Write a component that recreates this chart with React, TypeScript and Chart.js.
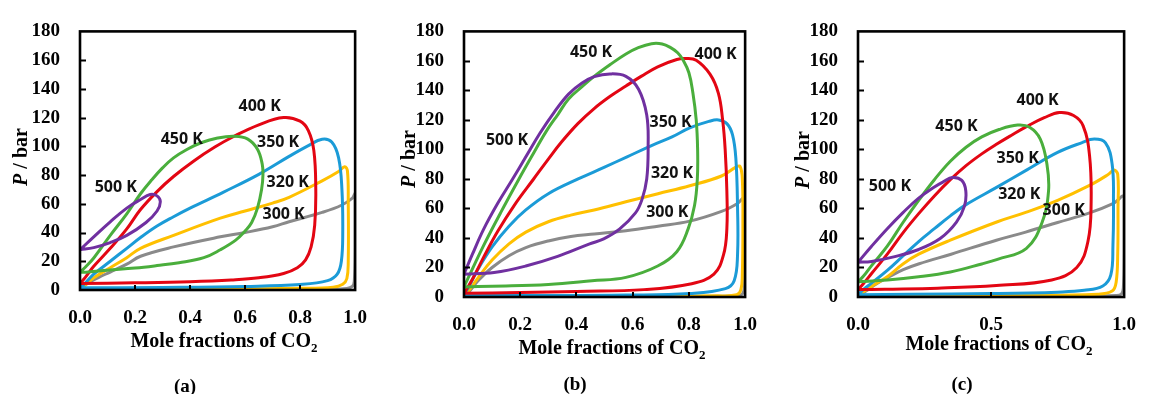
import React, { useEffect, useRef } from "react";
import { Chart, registerables } from "chart.js";
Chart.register(...registerables);

// ---------- data (x = mole fraction of CO2, p = pressure / bar) ----------
const temps = ["300 K", "320 K", "350 K", "400 K", "450 K", "500 K"];
const colors = ["#8a8a8a", "#ffc000", "#1b9bd7", "#e30613", "#4aae3c", "#7030a0"];

// panel (a)
const a300x = [0, 0.03, 0.07, 0.11, 0.17, 0.22, 0.34, 0.51, 0.6, 0.7, 0.76, 0.88, 0.95, 0.99, 1.0, 1.0, 0.997, 0.99, 0.97, 0.9, 0.7, 0.4, 0.1, 0];
const a300p = [0.3, 5, 9, 12.5, 18, 23.5, 30, 37, 40, 44, 47.5, 54, 59, 64, 67, 30, 6, 2.5, 1, 0.5, 0.3, 0.2, 0.2, 0.3];
const a320x = [0, 0.02, 0.05, 0.11, 0.17, 0.22, 0.34, 0.51, 0.6, 0.7, 0.76, 0.88, 0.94, 0.962, 0.972, 0.975, 0.975, 0.97, 0.955, 0.92, 0.8, 0.5, 0.2, 0];
const a320p = [0.5, 3.5, 8.5, 15.5, 22.5, 29, 38, 50, 55, 60.5, 64.5, 76, 82.5, 85.8, 83, 60, 20, 8, 4, 2, 1.2, 0.7, 0.5, 0.5];
const a350x = [0, 0.02, 0.05, 0.11, 0.17, 0.22, 0.28, 0.34, 0.4, 0.52, 0.65, 0.76, 0.83, 0.88, 0.915, 0.94, 0.952, 0.955, 0.95, 0.935, 0.9, 0.8, 0.6, 0.3, 0];
const a350p = [1.5, 5, 11, 20, 29, 36.5, 44.5, 51, 57, 68, 80.5, 93, 100.5, 105, 103, 92, 70, 40, 20, 11, 6.5, 3.8, 2.5, 1.8, 1.5];
const a400x = [0, 0.02, 0.05, 0.11, 0.17, 0.22, 0.28, 0.34, 0.415, 0.49, 0.555, 0.65, 0.74, 0.8, 0.83, 0.85, 0.857, 0.853, 0.84, 0.82, 0.79, 0.74, 0.65, 0.55, 0.4, 0.2, 0];
const a400p = [4.5, 9, 16.5, 29, 42.5, 56, 68.5, 79, 90, 99.5, 106.5, 115, 120, 117.5, 111, 97, 70, 45, 30, 21, 15.5, 11.5, 8.5, 7, 5.8, 5, 4.5];
const a450x = [0, 0.02, 0.05, 0.11, 0.17, 0.22, 0.26, 0.3, 0.34, 0.39, 0.44, 0.5, 0.56, 0.61, 0.645, 0.662, 0.665, 0.66, 0.645, 0.624, 0.6, 0.566, 0.51, 0.45, 0.36, 0.28, 0.2, 0.1, 0.03, 0];
const a450p = [12.3, 16, 22.3, 38, 53, 67, 76.5, 85, 92, 98, 102.5, 105.8, 107, 105, 98, 88, 80, 70, 57, 47, 41, 34.7, 28, 22.5, 19, 17, 15.3, 13.8, 12.6, 12.3];
const a500x = [0, 0.05, 0.11, 0.17, 0.22, 0.255, 0.28, 0.292, 0.28, 0.24, 0.17, 0.11, 0.05, 0];
const a500p = [28, 37, 47.5, 57, 63, 66.5, 65.5, 61.5, 55, 47, 38, 33, 29.5, 28];
const aLabelX = [0.74, 0.755, 0.72, 0.653, 0.37, 0.13];
const aLabelP = [52.5, 75, 103, 127.5, 105, 71.5];

// panel (b)
const b300x = [0, 0.02, 0.05, 0.1, 0.16, 0.22, 0.3, 0.38, 0.463, 0.576, 0.69, 0.803, 0.916, 0.973, 1.0, 1.0, 0.997, 0.99, 0.97, 0.8, 0.4, 0];
const b300p = [0.5, 4, 11, 20, 28, 33.5, 38, 41, 42.7, 44.9, 48, 51.4, 58, 63.4, 67.5, 30, 6, 2, 0.8, 0.4, 0.3, 0.5];
const b320x = [0, 0.02, 0.05, 0.1, 0.16, 0.22, 0.3, 0.38, 0.463, 0.576, 0.69, 0.803, 0.916, 0.967, 0.982, 0.99, 0.992, 0.99, 0.985, 0.97, 0.9, 0.5, 0];
const b320p = [0.8, 5, 13, 25, 36, 44, 51, 55.5, 59, 64.5, 70, 75.4, 82, 88, 88.5, 80, 50, 15, 5, 1.5, 0.8, 0.5, 0.5];
const b350x = [0, 0.02, 0.05, 0.1, 0.16, 0.22, 0.3, 0.406, 0.5, 0.58, 0.667, 0.74, 0.803, 0.871, 0.905, 0.935, 0.955, 0.967, 0.973, 0.973, 0.961, 0.93, 0.803, 0.576, 0.3, 0];
const b350p = [1.5, 8, 19, 34, 48, 59, 70, 80, 88, 95, 102.6, 108.5, 114.6, 119, 120, 117.5, 110, 94, 61, 28.5, 11, 5.7, 2.4, 1.3, 1, 1.2];
const b400x = [0, 0.03, 0.07, 0.12, 0.18, 0.247, 0.3, 0.349, 0.405, 0.463, 0.52, 0.576, 0.63, 0.689, 0.757, 0.79, 0.826, 0.875, 0.905, 0.92, 0.929, 0.935, 0.935, 0.923, 0.889, 0.81, 0.64, 0.4, 0.2, 0];
const b400p = [2.5, 12, 27, 44.5, 62.5, 79.8, 93.5, 105.5, 117.5, 127.7, 136, 143, 149.5, 156, 161, 161.6, 160.4, 151, 138, 120, 100, 72, 46, 28.5, 15.5, 9, 5, 3.8, 3, 2.5];
const b450x = [0, 0.03, 0.07, 0.13, 0.195, 0.24, 0.293, 0.335, 0.372, 0.42, 0.463, 0.52, 0.576, 0.62, 0.667, 0.705, 0.735, 0.76, 0.78, 0.8, 0.814, 0.826, 0.831, 0.83, 0.82, 0.797, 0.757, 0.689, 0.576, 0.455, 0.3, 0.1, 0];
const b450p = [6.8, 19, 35, 57, 79.8, 95, 112.4, 124, 134.2, 142.5, 149.5, 157.5, 164.7, 169, 171.7, 171.5, 169, 165.5, 160.4, 152, 138.6, 120, 100, 80, 62, 46, 30.7, 21, 13.3, 11, 8.5, 7.3, 6.8];
const b500x = [0, 0.03, 0.07, 0.12, 0.173, 0.22, 0.27, 0.32, 0.372, 0.42, 0.463, 0.519, 0.576, 0.621, 0.65, 0.655, 0.65, 0.633, 0.61, 0.553, 0.497, 0.447, 0.333, 0.22, 0.107, 0];
const b500p = [15.5, 29, 46, 63.5, 80, 95, 111, 125, 137.5, 145, 149.3, 151.2, 149.5, 140.8, 123.3, 101.5, 80, 66, 57, 46, 39.4, 36, 27.5, 21, 16.6, 15.5];
const bLabelX = [0.723, 0.74, 0.735, 0.895, 0.452, 0.153];
const bLabelP = [57.3, 83.7, 118.4, 164.7, 165.5, 106.3];

// panel (c)
const c300x = [0, 0.03, 0.07, 0.11, 0.17, 0.23, 0.35, 0.52, 0.63, 0.75, 0.87, 0.96, 1.0, 1.0, 0.997, 0.99, 0.97, 0.8, 0.4, 0];
const c300p = [0.5, 4, 9, 13, 18.5, 22.5, 29, 38.5, 44, 50.5, 57, 63.5, 68, 30, 6, 2, 1, 0.5, 0.4, 0.5];
const c320x = [0, 0.02, 0.051, 0.11, 0.169, 0.228, 0.347, 0.524, 0.633, 0.75, 0.87, 0.94, 0.962, 0.976, 0.977, 0.976, 0.97, 0.955, 0.9, 0.6, 0.2, 0];
const c320p = [0.8, 3.5, 7.2, 13.7, 22.4, 29, 38.5, 51, 57.5, 65.5, 75.6, 83, 86, 83, 60, 30, 10, 4, 1.8, 1, 0.7, 0.8];
const c350x = [0, 0.02, 0.051, 0.11, 0.169, 0.228, 0.287, 0.347, 0.406, 0.524, 0.633, 0.75, 0.84, 0.888, 0.93, 0.955, 0.96, 0.958, 0.95, 0.92, 0.85, 0.75, 0.5, 0.2, 0];
const c350p = [1.5, 5, 9.4, 18, 27.8, 37.6, 46.3, 55, 62.6, 74.6, 86, 98, 104.5, 107, 104.5, 90, 65, 35, 15, 7.5, 4.5, 3.3, 2.3, 1.8, 1.5];
const c400x = [0, 0.02, 0.051, 0.11, 0.169, 0.228, 0.287, 0.347, 0.406, 0.465, 0.52, 0.58, 0.633, 0.7, 0.757, 0.81, 0.846, 0.87, 0.876, 0.864, 0.822, 0.728, 0.52, 0.3, 0.1, 0];
const c400p = [5, 9, 15.9, 29, 43.5, 56.5, 68.5, 79.5, 89, 97, 103.5, 110, 115.5, 121.5, 125, 123, 116, 96, 64, 37.6, 20, 11.5, 7.8, 6, 5.3, 5];
const c450x = [0, 0.02, 0.051, 0.11, 0.169, 0.228, 0.287, 0.347, 0.406, 0.465, 0.53, 0.6, 0.645, 0.685, 0.71, 0.716, 0.692, 0.633, 0.524, 0.465, 0.347, 0.228, 0.11, 0];
const c450p = [10.4, 14, 21.3, 34.4, 50.5, 65.5, 79.5, 92, 101.5, 108.5, 113.5, 116.5, 115, 107, 90, 72, 50.7, 33, 25.5, 22.4, 17, 13.7, 11.5, 10.4];
const c500x = [0, 0.051, 0.11, 0.169, 0.228, 0.287, 0.32, 0.355, 0.39, 0.405, 0.4, 0.37, 0.31, 0.228, 0.134, 0.051, 0];
const c500p = [23.5, 34.4, 46.3, 57.2, 67, 74.6, 78, 81, 79, 72, 61.6, 50.7, 39.8, 32.2, 27.2, 24.1, 23.5];
const cLabelX = [0.773, 0.606, 0.6, 0.675, 0.37, 0.12];
const cLabelP = [58.7, 69.6, 93.7, 133, 115.4, 75];

const yTickValues = [20, 40, 60, 80, 100, 120, 140, 160];

// ---------- helpers ----------
type Curve = [number[], number[]];

function buildDatasets(curves: Curve[]) {
  const ds = curves.map(([xs, ps], i) => ({
    label: temps[i],
    data: xs.map((x, k) => ({ x, y: ps[k] })),
    showLine: true,
    borderColor: colors[i],
    backgroundColor: colors[i],
    borderWidth: 3,
    pointRadius: 0,
    tension: 0.4,
    fill: false,
  }));
  // first dataset is drawn on top in Chart.js -> put 500 K first
  return ds.reverse();
}

const framePlugin = {
  id: "frameAndLabels",
  afterDatasetsDraw(chart: any, _args: any, opts: any) {
    const { ctx, chartArea } = chart;
    const { left, right, top, bottom } = chartArea;
    const xs = chart.scales.x;
    const ys = chart.scales.y;
    ctx.save();
    ctx.strokeStyle = "#000";
    ctx.lineWidth = 2;
    ctx.beginPath();
    for (const v of yTickValues) {
      const py = Math.round(ys.getPixelForValue(v)) + 0.5;
      ctx.moveTo(left, py);
      ctx.lineTo(left + 6, py);
    }
    for (const v of opts.xTicks as number[]) {
      const px = Math.round(xs.getPixelForValue(v));
      ctx.moveTo(px, bottom);
      ctx.lineTo(px, bottom - 5);
    }
    ctx.stroke();
    ctx.lineWidth = 2.6;
    ctx.strokeRect(left, top, right - left, bottom - top);

    ctx.fillStyle = "#111";
    ctx.font = '700 16px "Open Sans", "DejaVu Sans", sans-serif';
    ctx.textAlign = "center";
    ctx.textBaseline = "middle";
    const lx: number[] = opts.labelX;
    const lp: number[] = opts.labelP;
    temps.forEach((t, i) => {
      ctx.fillText(t, xs.getPixelForValue(lx[i]), ys.getPixelForValue(lp[i]));
    });
    ctx.restore();
  },
};

const tickFont = { family: '"Liberation Serif", "Times New Roman", serif', size: 19, weight: "bold" as const };

type PanelProps = {
  left: number;
  width: number;
  plotLeft: number;
  plotRight: number;
  plotBottom: number;
  xStep: number;
  xTicks: number[];
  curves: Curve[];
  labelX: number[];
  labelP: number[];
};

function Panel(props: PanelProps) {
  const ref = useRef<HTMLCanvasElement>(null);
  useEffect(() => {
    const H = 394;
    const xAxisH = 40;
    const chart = new Chart(ref.current as HTMLCanvasElement, {
      type: "scatter",
      data: { datasets: buildDatasets(props.curves) as any },
      options: {
        responsive: false,
        animation: false,
        devicePixelRatio: 1,
        layout: {
          padding: {
            left: 0,
            top: 22,
            right: props.width - props.plotRight,
            bottom: H - props.plotBottom - xAxisH,
          },
        },
        plugins: {
          legend: { display: false },
          tooltip: { enabled: false },
          frameAndLabels: { xTicks: props.xTicks, labelX: props.labelX, labelP: props.labelP },
        } as any,
        scales: {
          x: {
            type: "linear",
            min: 0,
            max: 1,
            grid: { display: false, drawTicks: false },
            border: { display: false },
            ticks: {
              stepSize: props.xStep,
              padding: 17,
              color: "#000",
              font: tickFont,
              maxRotation: 0,
              autoSkip: false,
              callback: (v: any) => Number(v).toFixed(1),
            },
            afterFit: (s: any) => {
              s.height = xAxisH;
            },
          },
          y: {
            type: "linear",
            min: 0,
            max: 180,
            grid: { display: false, drawTicks: false },
            border: { display: false },
            ticks: {
              stepSize: 20,
              padding: 20,
              color: "#000",
              font: tickFont,
              autoSkip: false,
            },
            afterFit: (s: any) => {
              s.width = props.plotLeft;
            },
          },
        },
      },
      plugins: [framePlugin],
    });
    return () => chart.destroy();
  }, []);
  return (
    <canvas
      ref={ref}
      width={props.width}
      height={394}
      style={{ position: "absolute", left: props.left, top: 0, width: props.width, height: 394 }}
    />
  );
}

const serif = '"Liberation Serif", "Times New Roman", serif';

function XTitle({ cx, cy }: { cx: number; cy: number }) {
  return (
    <div
      style={{
        position: "absolute",
        left: cx - 150,
        top: cy - 12,
        width: 300,
        height: 24,
        lineHeight: "24px",
        textAlign: "center",
        fontFamily: serif,
        fontWeight: "bold",
        fontSize: 20,
        color: "#000",
        whiteSpace: "nowrap",
      }}
    >
      Mole fractions of CO
      <sub style={{ fontSize: 13, lineHeight: 0, verticalAlign: -5 }}>2</sub>
    </div>
  );
}

function YTitle({ cx, cy }: { cx: number; cy: number }) {
  return (
    <div
      style={{
        position: "absolute",
        left: cx - 50,
        top: cy - 12,
        width: 100,
        height: 24,
        lineHeight: "24px",
        textAlign: "center",
        fontFamily: serif,
        fontWeight: "bold",
        fontSize: 20,
        color: "#000",
        whiteSpace: "nowrap",
        transform: "rotate(-90deg)",
        transformOrigin: "50% 50%",
      }}
    >
      <i>P</i> / bar
    </div>
  );
}

function Caption({ cx, cy, text }: { cx: number; cy: number; text: string }) {
  return (
    <div
      style={{
        position: "absolute",
        left: cx - 30,
        top: cy - 12,
        width: 60,
        height: 24,
        lineHeight: "24px",
        textAlign: "center",
        fontFamily: serif,
        fontWeight: "bold",
        fontSize: 19,
        color: "#000",
      }}
    >
      {text}
    </div>
  );
}

export default function App() {
  return (
    <div
      style={{
        position: "absolute",
        left: 0,
        top: 0,
        width: 1153,
        height: 394,
        background: "#fff",
        overflow: "hidden",
      }}
    >
      <Panel
        left={0}
        width={384}
        plotLeft={80}
        plotRight={368}
        plotBottom={290}
        xStep={0.2}
        xTicks={[0.2, 0.4, 0.6, 0.8]}
        curves={[
          [a300x, a300p],
          [a320x, a320p],
          [a350x, a350p],
          [a400x, a400p],
          [a450x, a450p],
          [a500x, a500p],
        ]}
        labelX={aLabelX}
        labelP={aLabelP}
      />
      <Panel
        left={384}
        width={390}
        plotLeft={80}
        plotRight={374}
        plotBottom={297}
        xStep={0.2}
        xTicks={[0.2, 0.4, 0.6, 0.8]}
        curves={[
          [b300x, b300p],
          [b320x, b320p],
          [b350x, b350p],
          [b400x, b400p],
          [b450x, b450p],
          [b500x, b500p],
        ]}
        labelX={bLabelX}
        labelP={bLabelP}
      />
      <Panel
        left={774}
        width={379}
        plotLeft={84}
        plotRight={366}
        plotBottom={297}
        xStep={0.5}
        xTicks={[0.5]}
        curves={[
          [c300x, c300p],
          [c320x, c320p],
          [c350x, c350p],
          [c400x, c400p],
          [c450x, c450p],
          [c500x, c500p],
        ]}
        labelX={cLabelX}
        labelP={cLabelP}
      />
      <YTitle cx={20} cy={157} />
      <YTitle cx={408} cy={159} />
      <YTitle cx={802} cy={160} />
      <XTitle cx={224} cy={340} />
      <XTitle cx={612} cy={347} />
      <XTitle cx={999} cy={343} />
      <Caption cx={185} cy={386} text="(a)" />
      <Caption cx={575} cy={384} text="(b)" />
      <Caption cx={962} cy={384} text="(c)" />
    </div>
  );
}
